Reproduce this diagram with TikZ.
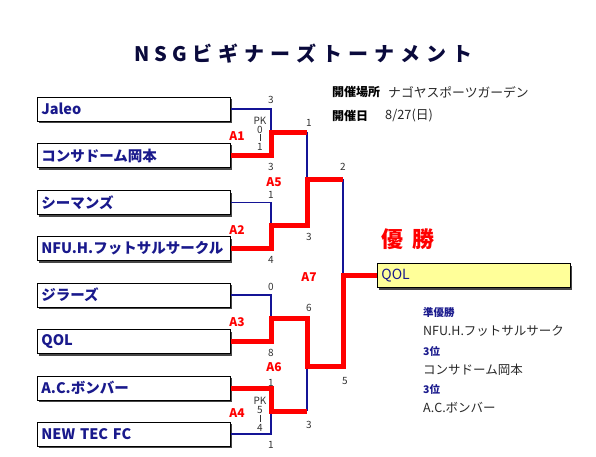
\documentclass[tikz,border=0pt]{standalone}
\usepackage{fontspec}
\setmainfont{Noto Sans CJK JP}
\usetikzlibrary{shadows}
\definecolor{navy}{RGB}{25,25,140}
\definecolor{lineblue}{RGB}{20,20,150}
\definecolor{titlec}{RGB}{10,10,60}
\definecolor{winred}{RGB}{255,0,0}
\definecolor{shadowc}{RGB}{70,70,70}
\definecolor{champc}{RGB}{255,255,153}
\definecolor{scoregray}{RGB}{50,50,50}
\definecolor{infotext}{RGB}{40,40,40}
\newcommand{\tch}[1]{\makebox[26pt]{#1}}
\newcommand{\tla}[1]{\makebox[19pt]{#1}}
\begin{document}
\begin{tikzpicture}[x=1pt,y=-1pt,
  team/.style={draw=black, line width=0.8pt, fill=white, anchor=west,
    minimum height=24pt, text width=185pt, inner xsep=4pt, inner ysep=0pt, align=left,
    text=navy, font=\bfseries\fontsize{14.5}{15}\selectfont,
    drop shadow={shadow xshift=2pt, shadow yshift=-2pt, fill=shadowc, opacity=1}},
  champbox/.style={team, fill=champc, font=\fontsize{14}{15}\selectfont},
  score/.style={font=\fontsize{10}{10}\selectfont, text=scoregray, inner sep=0pt},
  mlabel/.style={font=\bfseries\fontsize{12}{12}\selectfont, text=winred, inner sep=0pt},
  win/.style={draw=winred, line width=5pt, line join=miter},
  lose/.style={draw=lineblue, line width=1.5pt},
  info/.style={anchor=west, inner sep=0pt, font=\fontsize{12.8}{13}\selectfont, text=infotext},
  infob/.style={anchor=west, inner sep=0pt, font=\bfseries\fontsize{12}{12}\selectfont, text=black},
  rinfo/.style={anchor=west, inner sep=0pt, font=\fontsize{12.5}{13}\selectfont, text=infotext},
  rank/.style={anchor=west, inner sep=0pt, font=\bfseries\fontsize{10.5}{11}\selectfont, text=navy}
]
\useasboundingbox (0,0) rectangle (596,457);

% title
\node[text=titlec, font=\bfseries\fontsize{20}{20}\selectfont, inner sep=0pt] (title) at (304,54)
  {\tla{N}\tla{S}\tla{G}\tch{ビ}\tch{ギ}\tch{ナ}\tch{ー}\tch{ズ}\tch{ト}\tch{ー}\tch{ナ}\tch{メ}\tch{ン}\tch{ト}};

% info
\node[infob] (i1) at (332,92) {開催場所};
\node[info] (i2) at (388,92) {ナゴヤスポーツガーデン};
\node[infob] (i3) at (332,116) {開催日};
\node[info] (i4) at (385,116) {8/27(日)};

% teams
\node[team] (t1) at (37,109) {Jaleo};
\node[team] (t2) at (37,155.5) {コンサドーム岡本};
\node[team] (t3) at (37,202.5) {シーマンズ};
\node[team] (t4) at (37,248.5) {NFU.H.フットサルサークル};
\node[team] (t5) at (37,295) {ジラーズ};
\node[team] (t6) at (37,341.5) {QOL};
\node[team] (t7) at (37,388) {A.C.ボンバー};
\node[team] (t8) at (37,434) {NEW TEC FC};

% champion
\node[text=winred, font=\bfseries\fontsize{22}{22}\selectfont, inner sep=0pt] (yusho) at (408,239) {優\hspace{9pt}勝};
\node[champbox, text width=185pt] (champ) at (377,275.5) {QOL};

% junctions
\coordinate (m1) at (271,132.3);
\coordinate (m2) at (271,225.5);
\coordinate (m3) at (271,318.3);
\coordinate (m4) at (271,411);
\coordinate (s1) at (307,179);
\coordinate (s2) at (307,366);
\coordinate (f) at (343,275.5);

% losers (blue)
\draw[lose] (t1.east) -| (m1);
\draw[lose] (t3.east) -| (m2);
\draw[lose] (t5.east) -| (m3);
\draw[lose] (t8.east) -| (m4);
\draw[lose] (m1 -| s1) -- (s1);
\draw[lose] (m4 -| s2) -- (s2);
\draw[lose] (s1 -| f) -- (f);

% winners (red)
\draw[win] (t2.east) -| (m1) -- (m1 -| s1);
\draw[win] (t4.east) -| (m2) -- (m2 -| s1) -- (s1) -- (s1 -| f);
\draw[win] (t7.east) -| (m4) -- (m4 -| s2);
\draw[win] (t6.east) -| (m3) -- (m3 -| s2) -- (s2) -- (s2 -| f) -- (f) -- (champ.west);

% match labels
\node[mlabel] (a1) at (237,136) {A1};
\node[mlabel] (a2) at (237,230) {A2};
\node[mlabel] (a3) at (237,322) {A3};
\node[mlabel] (a4) at (237,413) {A4};
\node[mlabel] (a5) at (274,182) {A5};
\node[mlabel] (a6) at (274,367) {A6};
\node[mlabel] (a7) at (309,277) {A7};

% scores
\node[score] (c1) at (271,100) {3};
\node[score] (c2) at (271,167) {3};
\node[score] (pk1) at (260,121) {PK};
\node[score] (pk1a) at (260,130) {0};
\node[score] (pk1b) at (260,147) {1};
\draw[scoregray, line width=0.8pt] (260,134.5) -- (260,141.5);
\node[score] (c3) at (271,195) {1};
\node[score] (c4) at (271,260) {4};
\node[score] (c5) at (271,287) {0};
\node[score] (c6) at (271,353) {8};
\node[score] (c7) at (271,383) {1};
\node[score] (c8) at (271,445) {1};
\node[score] (pk4) at (260,401) {PK};
\node[score] (pk4a) at (260,410) {5};
\node[score] (pk4b) at (260,428) {4};
\draw[scoregray, line width=0.8pt] (260,414.5) -- (260,421.5);
\node[score] (d1) at (309,123) {1};
\node[score] (d2) at (309,237) {3};
\node[score] (d3) at (309,308) {6};
\node[score] (d4) at (309,425) {3};
\node[score] (e1) at (343,167) {2};
\node[score] (e2) at (345,381) {5};

% results
\node[rank] (r1) at (423,313) {準優勝};
\node[rinfo] (r1t) at (423,331) {NFU.H.フットサルサーク};
\node[rank] (r2) at (423,352) {3位};
\node[rinfo] (r2t) at (423,370) {コンサドーム岡本};
\node[rank] (r3) at (423,390) {3位};
\node[rinfo] (r3t) at (423,408) {A.C.ボンバー};
\end{tikzpicture}
\end{document}
